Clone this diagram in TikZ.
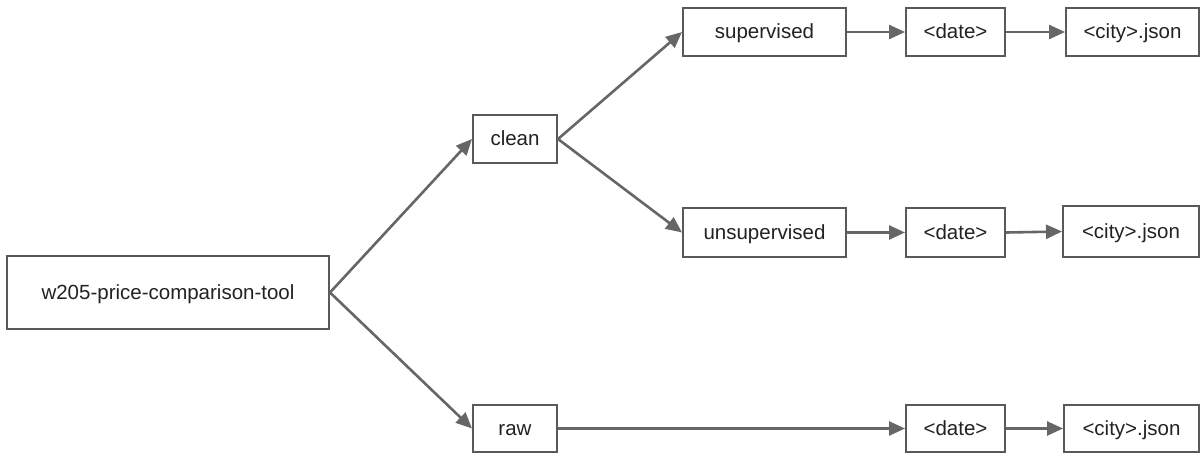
\documentclass[tikz,border=0pt]{standalone}
\usepackage{fontspec}
\setmainfont{Liberation Sans}
\usetikzlibrary{arrows.meta}
\definecolor{boxline}{HTML}{595959}
\definecolor{arrline}{HTML}{666666}
\definecolor{txt}{HTML}{222222}
\begin{document}
\begin{tikzpicture}[x=1pt,y=-1pt,
  box/.style={draw=boxline,line width=2pt,fill=white,text=txt,inner sep=0pt,
    font=\fontsize{20.5}{22}\selectfont,text height=17pt,text depth=4pt},
  conn/.style={draw=arrline,line width=2.6pt,-{Triangle[length=16pt,width=14pt]}}]
\useasboundingbox (0,0) rectangle (1203,456);
\node[box,minimum width=322pt,minimum height=73pt] (root) at (168,292.5) {w205-price-comparison-tool};
\node[box,minimum width=84pt,minimum height=48pt] (clean) at (515,139) {clean};
\node[box,minimum width=84pt,minimum height=47pt] (raw) at (515,428.5) {raw};
\node[box,minimum width=163pt,minimum height=48pt] (sup) at (764.5,32) {supervised};
\node[box,minimum width=163pt,minimum height=49pt] (unsup) at (764.5,232.5) {unsupervised};
\node[box,minimum width=99pt,minimum height=48pt] (d1) at (955.5,32) {<date>};
\node[box,minimum width=99pt,minimum height=49pt] (d2) at (955.5,232.5) {<date>};
\node[box,minimum width=99pt,minimum height=47pt] (d3) at (955.5,428.5) {<date>};
\node[box,minimum width=133pt,minimum height=48pt] (c1) at (1132.5,32) {<city>.json};
\node[box,minimum width=136pt,minimum height=51pt] (c2) at (1131,231.5) {<city>.json};
\node[box,minimum width=135pt,minimum height=47pt] (c3) at (1131.5,428.5) {<city>.json};
\draw[conn] (root.east) -- (clean.west);
\draw[conn] (root.east) -- (raw.west);
\draw[conn] (clean.east) -- (sup.west);
\draw[conn] (clean.east) -- (unsup.west);
\draw[conn] (sup.east) -- (d1.west);
\draw[conn] (unsup.east) -- (d2.west);
\draw[conn] (raw.east) -- (d3.west);
\draw[conn] (d1.east) -- (c1.west);
\draw[conn] (d2.east) -- (c2.west);
\draw[conn] (d3.east) -- (c3.west);
\end{tikzpicture}
\end{document}
